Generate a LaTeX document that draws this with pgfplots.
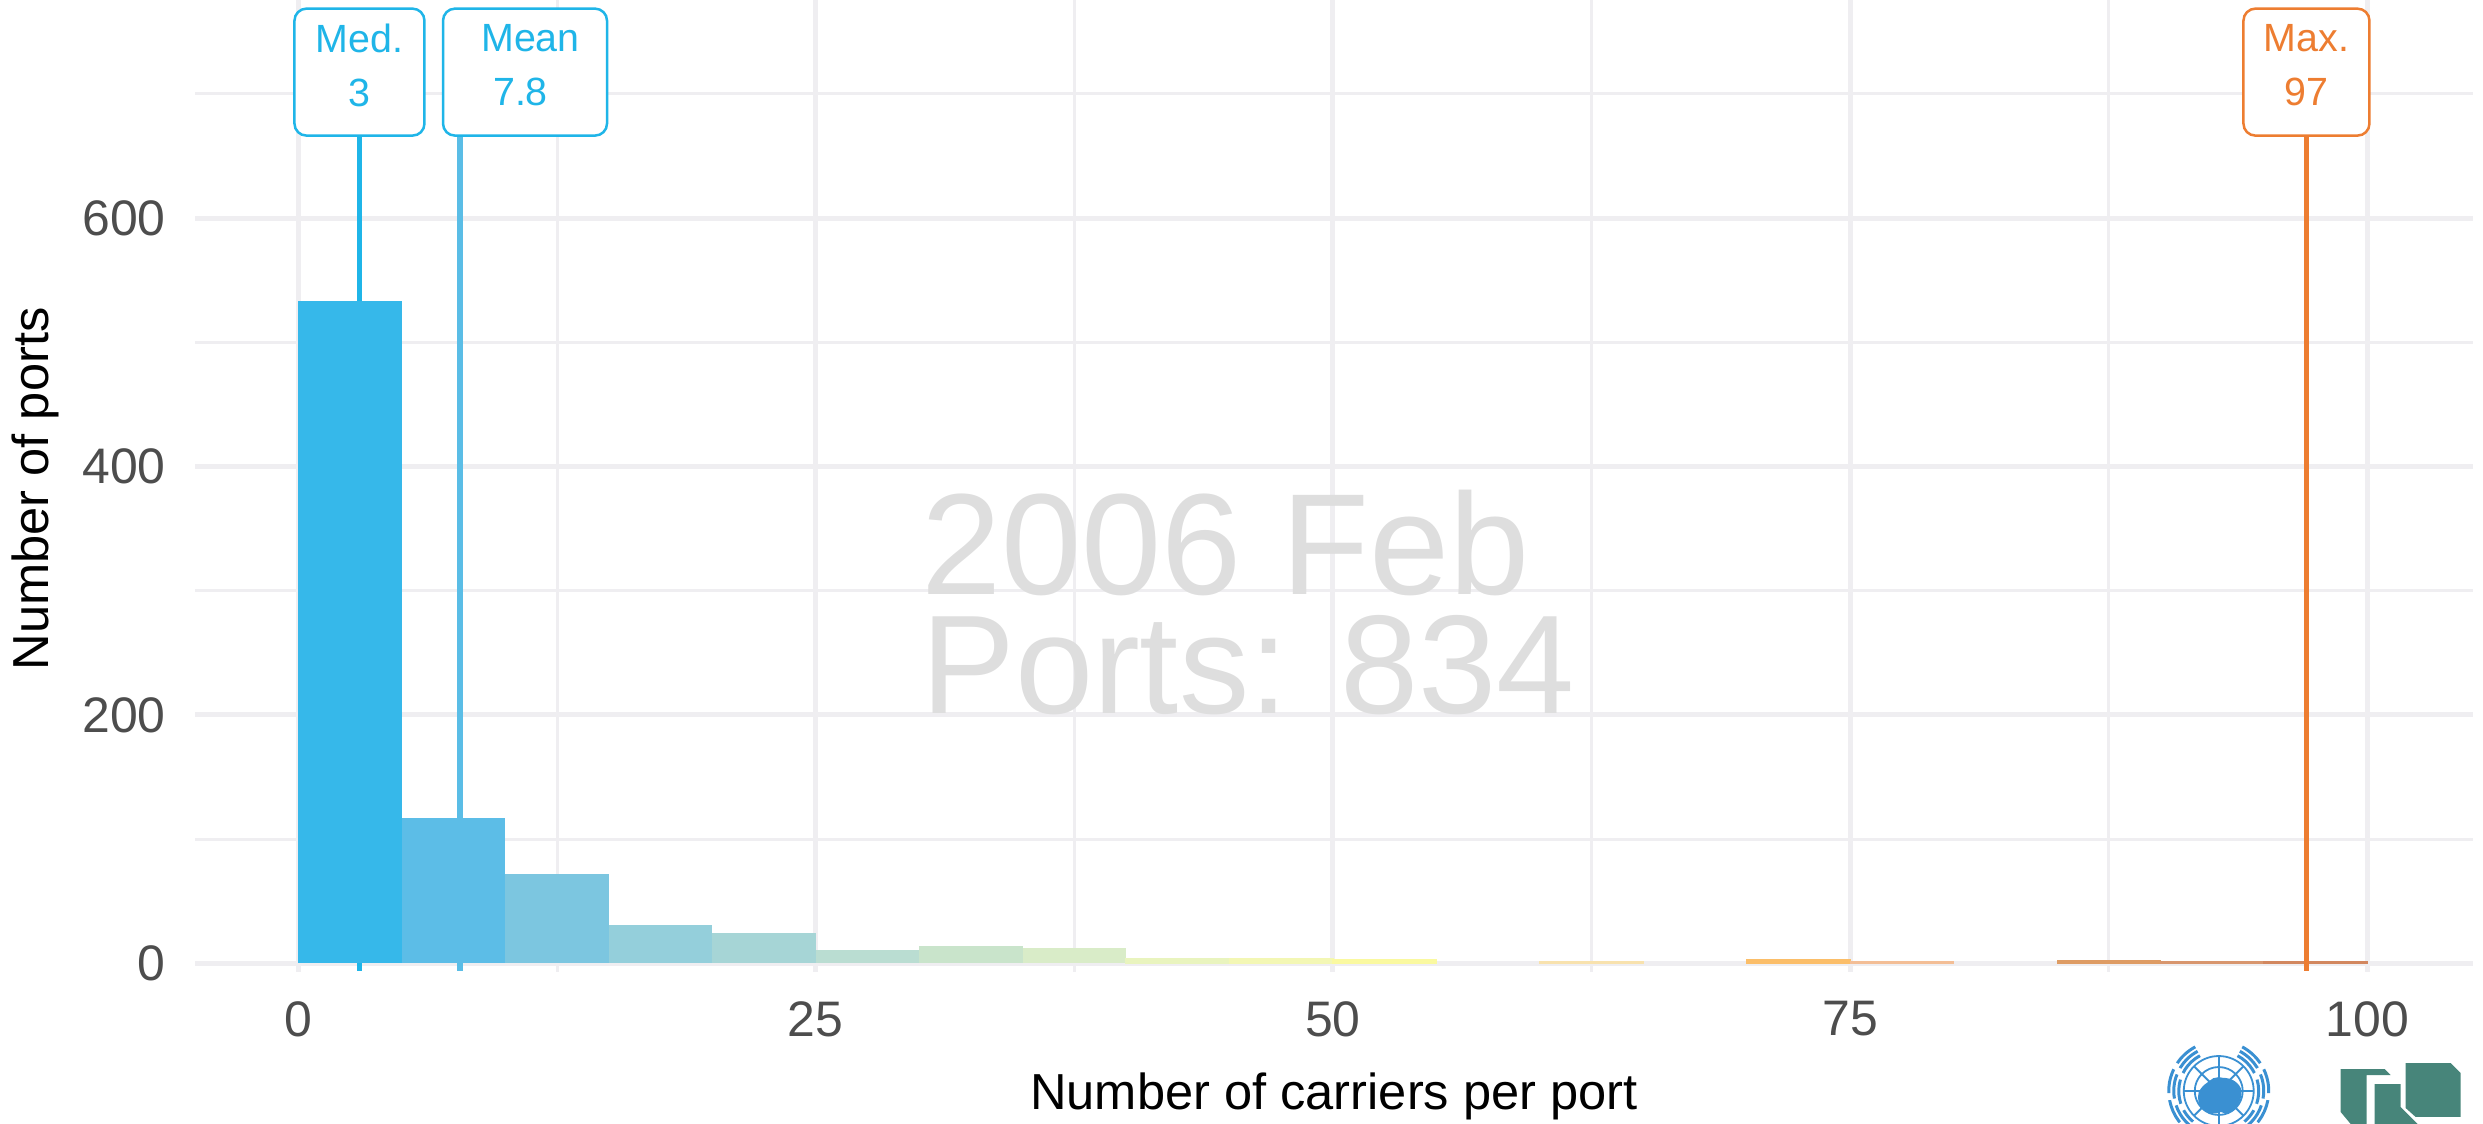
\documentclass[border=0pt]{standalone}
\usepackage{fontspec}
\setmainfont{Liberation Sans}
\usepackage{pgfplots}
\pgfplotsset{compat=1.18}
\definecolor{gridc}{HTML}{EFEEF1}
\definecolor{ticktxt}{HTML}{4D4D4D}
\definecolor{medc}{HTML}{1FB5E8}
\definecolor{meanc}{HTML}{5ABDE6}
\definecolor{maxc}{HTML}{ED7D31}
\definecolor{logoteal}{HTML}{47857A}
\definecolor{unblue}{HTML}{3A90D2}
% bin colours, left to right
\definecolor{b1}{HTML}{36B8EA}
\definecolor{b2}{HTML}{5CBDE7}
\definecolor{b3}{HTML}{7CC6E0}
\definecolor{b4}{HTML}{94CFDB}
\definecolor{b5}{HTML}{A6D5D6}
\definecolor{b6}{HTML}{BADDD2}
\definecolor{b7}{HTML}{C9E4CB}
\definecolor{b8}{HTML}{D9ECC8}
\definecolor{b9}{HTML}{E9F4BE}
\definecolor{b10}{HTML}{F3F7B4}
\definecolor{b11}{HTML}{FAF9A0}
\definecolor{b13}{HTML}{F8E2AE}
\definecolor{b15}{HTML}{FBBE69}
\definecolor{b16}{HTML}{F3BE96}
\definecolor{b18}{HTML}{DE9C64}
\definecolor{b19}{HTML}{D8966E}
\definecolor{b20}{HTML}{D2875F}

\begin{document}
\begin{tikzpicture}
\clip (0,0) rectangle (24.83,11.24);
\begin{axis}[
    at={(1.95cm,1.52cm)}, anchor=south west,
    scale only axis,
    width=22.78cm, height=9.72cm,
    xmin=-5, xmax=105.1,
    ymin=-7, ymax=775.6,
    xtick={0,25,50,75,100},
    ytick={0,200,400,600},
    minor xtick={12.5,37.5,62.5,87.5},
    minor ytick={100,300,500,700},
    grid=both,
    major grid style={gridc, line width=0.05cm},
    minor grid style={gridc, line width=0.03cm},
    major tick length=0pt, minor tick length=0pt,
    axis line style={draw=none},
    /pgf/number format/assume math mode=true,
    tick label style={font=\fontsize{14.2}{16}\selectfont, text=ticktxt},
    xticklabel style={yshift=-0.17cm},
    yticklabel style={xshift=-0.17cm},
    xlabel={Number of carriers per port},
    ylabel={Number of ports},
    every axis x label/.style={at={(axis description cs:0.5,0)}, anchor=center, yshift=-1.24cm,
        font=\fontsize{14.4}{16}\selectfont},
    every axis y label/.style={at={(axis description cs:0,0.5)}, anchor=center, rotate=90, yshift=1.6cm, xshift=-0.03cm,
        font=\fontsize{14.4}{16}\selectfont},
    binbar/.style={ybar, bar width=5, bar shift=0pt, draw=none, fill=#1},
    thinbar/.style={ybar, bar width=5, bar shift=0pt, draw=#1, line width=0.012cm, fill=#1},
]
% watermark
\node[anchor=west, text=black!13, font=\fontsize{41}{48}\selectfont] at (axis cs:29.5,338) {2006 Feb};
\node[anchor=west, text=black!13, font=\fontsize{40}{48}\selectfont] at (axis cs:29.5,240) {Ports: 834};

% stat lines, behind the bars
\addplot[medc, line width=0.055cm] coordinates {(2.95,-6) (2.95,666)};
\addplot[meanc, line width=0.055cm] coordinates {(7.8,-6) (7.8,666)};

% histogram, bins of 5
\addplot[binbar=b1] coordinates {(2.5,533)};
\addplot[binbar=b2] coordinates {(7.5,117)};
\addplot[binbar=b3] coordinates {(12.5,72)};
\addplot[binbar=b4] coordinates {(17.5,31)};
\addplot[binbar=b5] coordinates {(22.5,24)};
\addplot[binbar=b6] coordinates {(27.5,11)};
\addplot[binbar=b7] coordinates {(32.5,14)};
\addplot[binbar=b8] coordinates {(37.5,12)};
\addplot[thinbar=b9] coordinates {(42.5,4)};
\addplot[thinbar=b10] coordinates {(47.5,4)};
\addplot[thinbar=b11] coordinates {(52.5,3)};
\addplot[thinbar=b13] coordinates {(62.5,1)};
\addplot[thinbar=b15] coordinates {(72.5,3)};
\addplot[thinbar=b16] coordinates {(77.5,1)};
\addplot[thinbar=b18] coordinates {(87.5,2)};
\addplot[thinbar=b19] coordinates {(92.5,1)};
\addplot[thinbar=b20] coordinates {(97.5,1)};

\addplot[maxc, line width=0.055cm] coordinates {(97.05,-6) (97.05,666)};

% label boxes
\tikzset{
  statbox/.style={draw=#1, fill=white, line width=0.025cm, rounded corners=0.12cm,
    minimum height=1.27cm, inner sep=0pt},
  stattxt/.style={text=#1, inner sep=0pt, align=center, font=\fontsize{11.2}{15.5}\selectfont},
}
\node[statbox=medc, minimum width=1.30cm] at (axis cs:2.95,717.5) {};
\node[stattxt=medc] at (axis cs:2.95,723) {Med.\\3};
\node[statbox=medc, minimum width=1.64cm] at (axis cs:10.95,717.5) {};
\node[stattxt=medc] at (axis cs:10.95,723) {\hspace*{0.11cm}Mean\\7.8\hspace*{0.09cm}};
\node[statbox=maxc, minimum width=1.26cm] at (axis cs:97.05,717.5) {};
\node[stattxt=maxc] at (axis cs:97.05,723) {Max.\\97};
\end{axis}

% logos, in picture pixels from the top left
\begin{scope}[x=0.01cm, y=-0.01cm, shift={(0,-1124)}]
  \fill[logoteal] (2407,1063)--(2452,1063)--(2462,1073)--(2462,1117)--(2417,1117)--(2407,1108)--cycle;
  \fill[logoteal] (2342,1069)--(2386,1069)--(2392,1075)--(2368,1075)--(2368,1124)--(2352,1124)--(2342,1112)--cycle;
  \fill[logoteal] (2376,1084)--(2402,1084)--(2402,1107)--(2419,1124)--(2376,1124)--cycle;
  \begin{scope}[draw=unblue, line width=0.018cm]
    \draw (2220,1091) circle (35);
    \draw (2220,1091) circle (24);
    \draw (2220,1091) circle (13);
    \foreach \a in {0,45,...,315} \draw (2220,1091) -- ++(\a:35);
    \fill[unblue] (2200,1092) .. controls (2208,1076) and (2234,1072) .. (2242,1088)
       .. controls (2246,1102) and (2232,1118) .. (2222,1112)
       .. controls (2208,1118) and (2196,1106) .. (2200,1092);
    \foreach \r in {40,45,50} {
      \draw[line width=0.03cm, dash pattern=on 7 off 2] (2220,1091)++(-62:\r) arc (-62:50:\r);
      \draw[line width=0.03cm, dash pattern=on 7 off 2] (2220,1091)++(242:\r) arc (242:130:\r);
    }
  \end{scope}
\end{scope}
\end{tikzpicture}
\end{document}
